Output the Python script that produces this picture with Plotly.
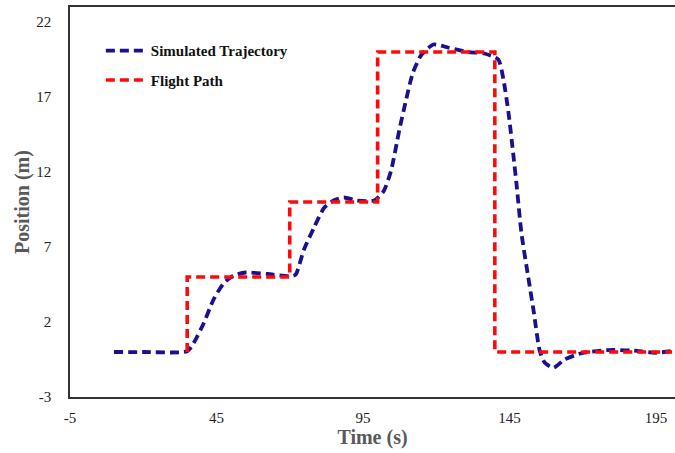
import plotly.graph_objects as go

# Simulated trajectory (time s, position m)
sim_t = [10, 20, 35, 37.2, 40.6, 44, 47.5, 50.9, 55, 62.4, 70.3, 72, 74.8, 78.3, 81.7,
         85, 88.5, 93, 98.8, 102, 104.6, 107.4, 109.7, 112, 114.9, 119, 124, 130.9,
         136.4, 141.2, 143, 144.7, 146.4, 147.4, 149.1, 151.4, 153.2, 155.3, 157, 160,
         163.8, 169.7, 178.9, 186.8, 194.7, 200]
sim_y = [0, 0, 0.05, 0.6, 1.9, 3.5, 4.6, 5.1, 5.3, 5.2, 5.05, 5.15, 6.8, 8.3, 9.6,
         10.1, 10.3, 10.1, 10.1, 10.7, 12.1, 14.8, 16.8, 18.6, 19.8, 20.5, 20.3, 20.0,
         19.9, 19.5, 18.1, 15.9, 13.0, 11.2, 7.9, 5.0, 2.8, 0.1, -0.7, -1.05,
         -0.5, -0.07, 0.13, 0.1, -0.05, 0.05]

# Flight path (reference)
path_t = [35, 35, 70, 70, 100, 100, 140, 140, 200.5]
path_y = [0, 5, 5, 10, 10, 20, 20, 0, 0]

x_ticks = [-5, 45, 95, 145, 195]
y_ticks = [-3, 2, 7, 12, 17, 22]

fig = go.Figure()
fig.add_trace(go.Scatter(
    x=sim_t, y=sim_y, mode="lines", name="Simulated Trajectory",
    line=dict(color="#1a1090", width=3.8, dash="9px,5px", shape="spline", smoothing=0.6),
    legendgroup="a"))
fig.add_trace(go.Scatter(
    x=path_t, y=path_y, mode="lines", name="Flight Path",
    line=dict(color="#ff0a0a", width=3.6, dash="9px,5px"),
    legendgroup="b"))

tick_font = dict(family="Liberation Serif, Times New Roman, serif", size=15, color="#222222")
title_font = dict(family="Liberation Serif, Times New Roman, serif", size=20, color="#595959")

fig.update_layout(
    width=675, height=453,
    margin=dict(l=70, r=0, t=7, b=56, autoexpand=False),
    paper_bgcolor="white", plot_bgcolor="white",
    showlegend=True,
    legend=dict(x=0.051, y=0.93, xanchor="left", yanchor="top", itemwidth=40,
                bgcolor="rgba(0,0,0,0)", traceorder="grouped", tracegroupgap=7,
                font=dict(family="Liberation Serif, Times New Roman, serif", size=15,
                          color="#111111", weight="bold")),
    xaxis=dict(range=[-5, 201.5], tickvals=x_ticks, ticktext=[str(v) for v in x_ticks],
               showgrid=False, zeroline=False, showline=True, linecolor="#333333",
               linewidth=1.5, mirror=True, ticks="", tickfont=tick_font,
               ticklabelstandoff=6, automargin=False,
               title=dict(text="<b>Time (s)</b>", font=title_font, standoff=3)),
    yaxis=dict(range=[-3, 23], tickvals=y_ticks, ticktext=[str(v) for v in y_ticks],
               showgrid=False, zeroline=False, showline=True, linecolor="#333333",
               linewidth=1.5, ticks="", tickfont=tick_font, ticklabelstandoff=14,
               automargin=False,
               title=dict(text="<b>Position (m)</b>", font=title_font, standoff=1)),
)

fig.write_html("out.html", config={"displayModeBar": False},
               post_script="document.body.style.margin='0';")
